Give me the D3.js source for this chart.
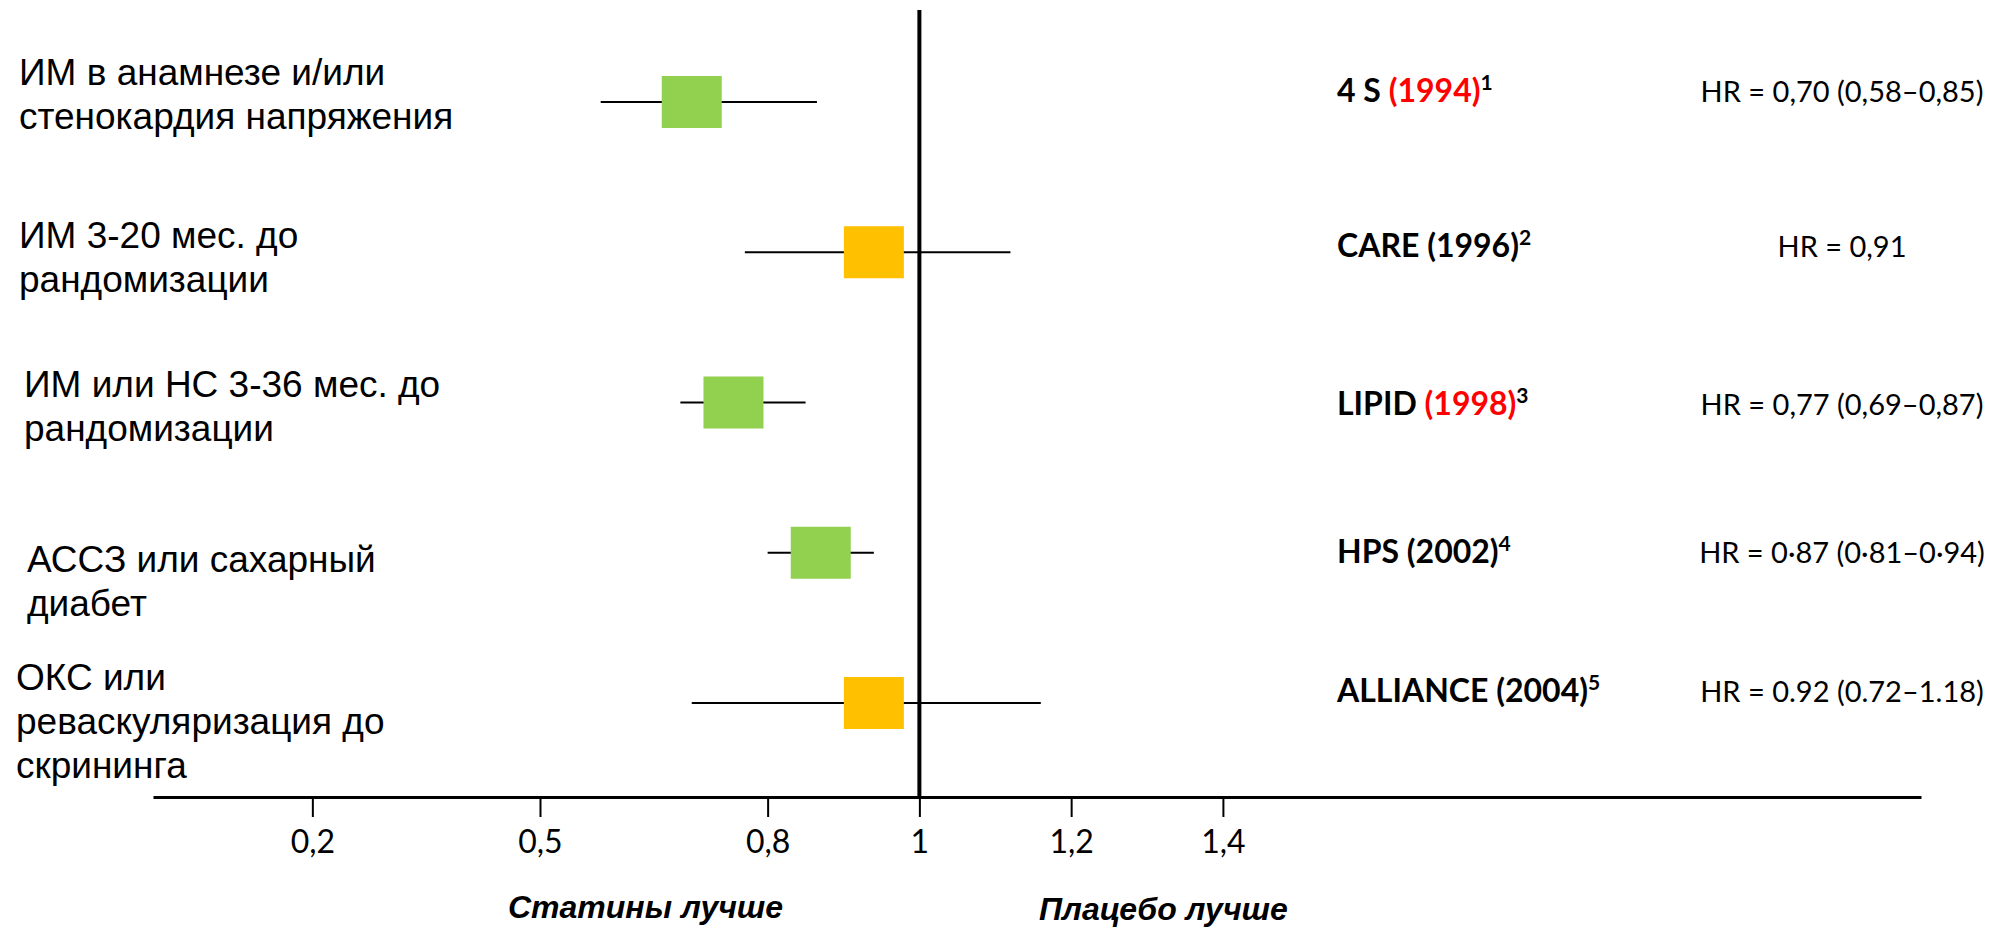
<!DOCTYPE html>
<html>
<head>
<meta charset="utf-8">
<script src="https://cdn.jsdelivr.net/npm/d3@7/dist/d3.min.js"></script>
<style>
body { margin:0; background:#fff; }
svg { display:block; }
.label { font-family:"Liberation Sans", Arial, sans-serif; font-size:37px; fill:#000; }
.study { font-family:Lato, sans-serif; font-weight:bold; font-size:32px; fill:#000; }
.hr { font-family:Lato, sans-serif; font-size:29px; fill:#000; }
.axis text { font-family:Lato, sans-serif; font-size:32px; fill:#000; }
.side { font-family:"Liberation Sans", Arial, sans-serif; font-weight:bold; font-style:italic; font-size:32px; fill:#000; }
</style>
</head>
<body>
<svg id="chart"></svg>
<script>
// studies, top to bottom
var studies = ["4 S", "CARE", "LIPID", "HPS", "ALLIANCE"];
var years = ["(1994)", "(1996)", "(1998)", "(2002)", "(2004)"];
var yearRed = [true, false, true, false, false];
var refs = ["1", "2", "3", "4", "5"];

// values as plotted
var hr    = [0.70, 0.94, 0.755, 0.87, 0.94];
var lower = [0.58, 0.77, 0.685, 0.80, 0.70];
var upper = [0.865, 1.12, 0.85, 0.94, 1.16];

var hrText = [
    "HR = 0,70 (0,58–0,85)",
    "HR = 0,91",
    "HR = 0,77 (0,69–0,87)",
    "HR = 0·87 (0·81–0·94)",
    "HR = 0.92 (0.72–1.18)"
];

var groups = [
    ["ИМ в анамнезе и/или", "стенокардия напряжения"],
    ["ИМ 3-20 мес. до", "рандомизации"],
    ["ИМ или НС 3-36 мес. до", "рандомизации"],
    ["АССЗ или сахарный", "диабет"],
    ["ОКС или", "реваскуляризация до", "скрининга"]
];

var tickValues = [0.2, 0.5, 0.8, 1, 1.2, 1.4];
var tickLabels = ["0,2", "0,5", "0,8", "1", "1,2", "1,4"];

var sideLabels = ["Статины лучше", "Плацебо лучше"];

// text nudges (x of left label, dy of left label, dy of right texts)
var textLayout = [[19,-17,0], [19,-4,5], [24,-6,12], [27,19,10], [16,-13,-1]];

var screen = {width:1991, height:928};
var axisY = 797;

var svg = d3.select("#chart")
    .attr("width", screen.width)
    .attr("height", screen.height);

var xScale = d3.scaleLinear()
    .domain([-0.01, 2.32])
    .range([153, 1921]);

var yScale = d3.scalePoint()
    .domain(studies)
    .range([102, 703]);

var rows = studies.map(function(s, i)
{
    return {study:s, year:years[i], red:yearRed[i], ref:refs[i],
            hr:hr[i], lo:lower[i], hi:upper[i], text:hrText[i],
            label:groups[i], layout:textLayout[i]};
});

var color = function(d) { return d.hi > 1 ? "#FFC000" : "#92D050"; };

// axis
var xAxis = d3.axisBottom(xScale)
    .tickValues(tickValues)
    .tickFormat(function(v, i) { return tickLabels[i]; })
    .tickSize(20)
    .tickSizeOuter(0)
    .tickPadding(13);

var axis = svg.append("g")
    .classed("axis", true)
    .attr("transform", "translate(0," + axisY + ")")
    .call(xAxis);
axis.select(".domain").attr("stroke", "#000").attr("stroke-width", 3);
axis.selectAll(".tick line").attr("stroke", "#000").attr("stroke-width", 2);

// whiskers
svg.append("g")
    .selectAll("line")
    .data(rows)
    .enter()
    .append("line")
    .attr("x1", function(d) { return xScale(d.lo); })
    .attr("x2", function(d) { return xScale(d.hi); })
    .attr("y1", function(d) { return yScale(d.study); })
    .attr("y2", function(d) { return yScale(d.study); })
    .attr("stroke", "#000")
    .attr("stroke-width", 2);

// line of no effect
svg.append("line")
    .attr("x1", xScale(1))
    .attr("x2", xScale(1))
    .attr("y1", 10)
    .attr("y2", axisY)
    .attr("stroke", "#000")
    .attr("stroke-width", 4);

// boxes
var boxW = 60, boxH = 52;
svg.append("g")
    .selectAll("rect")
    .data(rows)
    .enter()
    .append("rect")
    .attr("x", function(d) { return xScale(d.hr) - boxW / 2; })
    .attr("y", function(d) { return yScale(d.study) - boxH / 2; })
    .attr("width", boxW)
    .attr("height", boxH)
    .attr("fill", color);

// left labels
var lineH = 44;
svg.append("g")
    .selectAll("text")
    .data(rows)
    .enter()
    .append("text")
    .classed("label", true)
    .attr("x", function(d) { return d.layout[0]; })
    .attr("y", function(d) { return yScale(d.study) + d.layout[1]; })
    .each(function(d)
    {
        var t = d3.select(this);
        d.label.forEach(function(line, i)
        {
            t.append("tspan")
                .attr("x", d.layout[0])
                .attr("dy", i == 0 ? 0 : lineH)
                .text(line);
        });
    });

// study names
var names = svg.append("g")
    .selectAll("text")
    .data(rows)
    .enter()
    .append("text")
    .classed("study", true)
    .attr("x", 1337)
    .attr("y", function(d) { return yScale(d.study) + d.layout[2]; });
names.append("tspan").text(function(d) { return d.study + " "; });
names.append("tspan")
    .attr("fill", function(d) { return d.red ? "#FF0000" : "#000"; })
    .text(function(d) { return d.year; });
names.append("tspan")
    .attr("font-size", "21px")
    .attr("dy", -12)
    .text(function(d) { return d.ref; });

// HR texts
svg.append("g")
    .selectAll("text")
    .data(rows)
    .enter()
    .append("text")
    .classed("hr", true)
    .attr("text-anchor", "middle")
    .attr("x", 1842)
    .attr("y", function(d) { return yScale(d.study) + d.layout[2]; })
    .text(function(d) { return d.text; });

// direction labels
svg.append("text").classed("side", true)
    .attr("x", 508).attr("y", 918)
    .text(sideLabels[0]);
svg.append("text").classed("side", true)
    .attr("x", 1039).attr("y", 920)
    .text(sideLabels[1]);
</script>
</body>
</html>
